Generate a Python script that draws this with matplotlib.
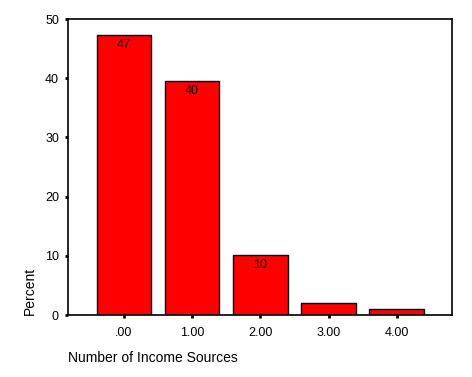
import matplotlib
matplotlib.use("Agg")
import matplotlib.pyplot as plt

# data
categories = [".00", "1.00", "2.00", "3.00", "4.00"]
percent = [47.3, 39.6, 10.1, 2.0, 1.0]
shown_labels = ["47", "40", "10", "", ""]
y_ticks = [0, 10, 20, 30, 40, 50]

plt.rcParams['font.family'] = ['Liberation Sans', 'DejaVu Sans']

W, H = 472, 377
fig = plt.figure(figsize=(W / 100, H / 100), dpi=100)
ax = fig.add_axes([68 / W, 1 - 315 / H, (452 - 68) / W, (315 - 19) / H])

x = list(range(len(categories)))
bars = ax.bar(x, percent, width=0.8, color='#ff0000', edgecolor='black', linewidth=1.0)

for b, lab in zip(bars, shown_labels):
    if lab:
        ax.annotate(lab, (b.get_x() + b.get_width() / 2, b.get_height()),
                    xytext=(0, -3), textcoords='offset points',
                    ha='center', va='top', fontsize=9)

ax.set_xlim(-0.82, 4.81)
ax.set_ylim(0, 50)
ax.set_xticks(x)
ax.set_xticklabels(categories)
ax.set_yticks(y_ticks)
ax.tick_params(axis='both', direction='out', length=2.5, width=2, labelsize=9, pad=4)
ax.tick_params(axis='x', pad=6)

for s in ax.spines.values():
    s.set_linewidth(1.2)

fig.text(30 / W, 1 - 315 / H, "Percent", rotation=90, ha='center', va='bottom', fontsize=10)
fig.text(68 / W, 1 - 358 / H, "Number of Income Sources", ha='left', va='center', fontsize=10)

fig.savefig("out.png", dpi=100)
